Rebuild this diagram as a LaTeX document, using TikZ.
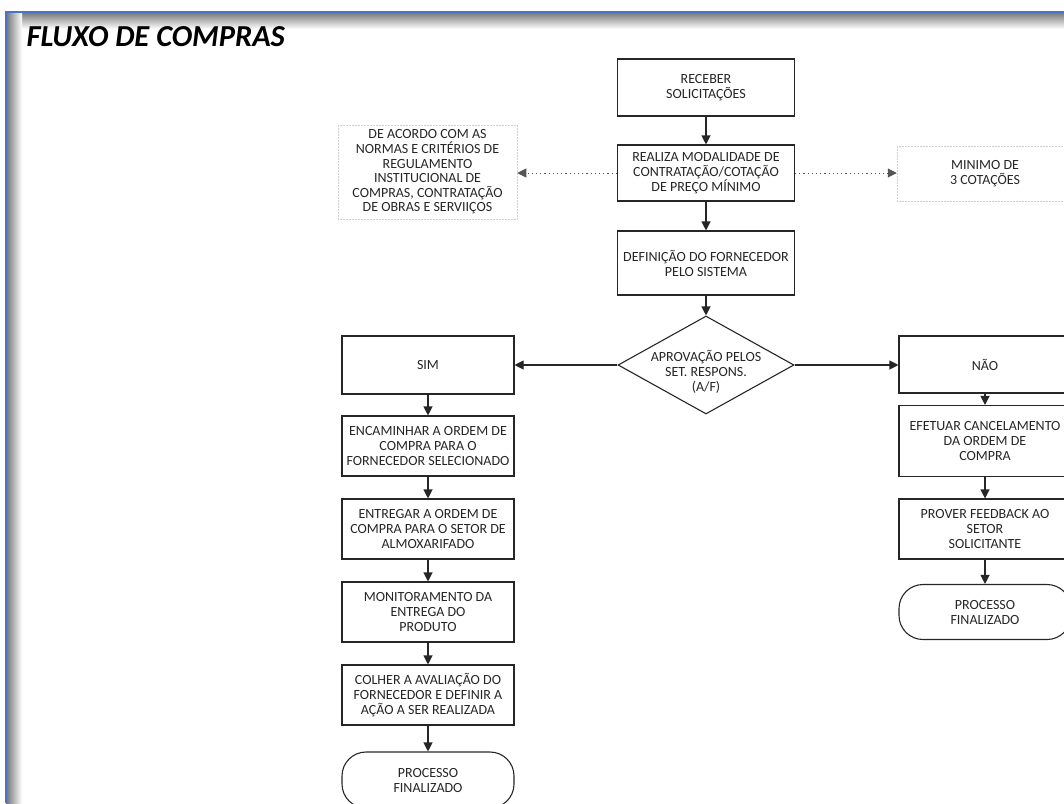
\documentclass[tikz,border=0pt]{standalone}
\usepackage{fontspec}
\setmainfont{Carlito}
\usepackage{tikz}
\usetikzlibrary{arrows.meta, positioning, shapes.geometric}
\definecolor{frameblue}{HTML}{4A72C6}
\definecolor{inkgrey}{HTML}{262626}
\definecolor{notegrey}{HTML}{CFCFCF}
\definecolor{dotgrey}{HTML}{555555}

\tikzset{
  procbox/.style={draw=inkgrey, line width=1.1pt, fill=white, inner sep=1pt,
    minimum width=172pt, minimum height=60pt, align=center, text=inkgrey,
    font=\fontsize{14}{15}\selectfont},
  endbox/.style={procbox, rounded corners=24pt, minimum height=56pt},
  notebox/.style={draw=notegrey, line width=0.5pt, densely dotted, inner sep=1pt,
    align=center, text=inkgrey, font=\fontsize{14}{14.6}\selectfont},
  decbox/.style={diamond, draw=inkgrey, line width=1.1pt, fill=white, inner sep=0pt,
    minimum width=176pt, minimum height=98pt},
  flow/.style={draw=inkgrey, line width=1.1pt, -{Triangle[length=9pt, width=9pt]}},
  sideflow/.style={draw=dotgrey, line width=1pt, dash pattern=on 1.2pt off 3pt,
    -{Triangle[length=9pt, width=9pt]}}
}

\begin{document}
\begin{tikzpicture}[x=1pt, y=-1pt]
  \useasboundingbox (0,0) rectangle (1064,803);

  % ===== page frame with soft shadow =====
  \shade[top color=black!55, bottom color=white] (6,12) rectangle (1064,29);
  \shade[left color=black!55, right color=white] (6,12) rectangle (22,803);
  \draw[frameblue, line width=1.6pt] (6,803) -- (6,12) -- (1064,12);

  \node[anchor=base west, font=\fontsize{30.5}{33}\selectfont\bfseries\itshape]
       (titulo) at (23,46) {FLUXO DE COMPRAS};

  % ===== main column =====
  \node[procbox, minimum width=177pt, minimum height=57pt] (receber) at (706,87.5)
       {RECEBER\\SOLICITAÇÕES};
  \node[procbox, minimum width=177pt, minimum height=56pt] (realiza) at (706,173)
       {REALIZA MODALIDADE DE\\CONTRATAÇÃO/COTAÇÃO\\DE PREÇO MÍNIMO};
  \node[procbox, minimum width=177pt, minimum height=64pt] (definicao) at (706,263)
       {DEFINIÇÃO DO FORNECEDOR\\PELO SISTEMA};
  \node[decbox] (aprov) at (706,365) {};
  \node[align=center, text=inkgrey, font=\fontsize{14}{15}\selectfont]
       (aprovtxt) at (706,372) {APROVAÇÃO PELOS\\SET. RESPONS.\\(A/F)};

  % side notes
  \node[notebox, minimum width=179pt, minimum height=94pt] (normas) at (427.5,172)
       {DE ACORDO COM AS\\NORMAS E CRITÉRIOS DE\\REGULAMENTO\\INSTITUCIONAL DE\\COMPRAS, CONTRATAÇÃO\\DE OBRAS E SERVIIÇOS};
  \node[notebox, minimum width=176pt, minimum height=55pt] (minimo) at (985,173.5)
       {MINIMO DE\\3 COTAÇÕES};

  % ===== SIM branch =====
  \node[procbox, minimum height=58pt] (sim) at (428,365) {SIM};
  \node[procbox] (encaminhar) at (428,446)
       {ENCAMINHAR A ORDEM DE\\COMPRA PARA O\\FORNECEDOR SELECIONADO};
  \node[procbox] (entregar) at (428,529)
       {ENTREGAR A ORDEM DE\\COMPRA PARA O SETOR DE\\ALMOXARIFADO};
  \node[procbox] (monitor) at (428,612)
       {MONITORAMENTO DA\\ENTREGA DO\\PRODUTO};
  \node[procbox] (colher) at (428,695)
       {COLHER A AVALIAÇÃO DO\\FORNECEDOR E DEFINIR A\\AÇÃO A SER REALIZADA};
  \node[endbox] (fimsim) at (428,780) {PROCESSO\\FINALIZADO};

  % ===== NAO branch =====
  \node[procbox, minimum height=57pt] (nao) at (985,364.5) {NÃO};
  \node[procbox, minimum height=71pt] (cancela) at (985,441)
       {EFETUAR CANCELAMENTO\\DA ORDEM DE\\COMPRA};
  \node[procbox] (feedback) at (985,529)
       {PROVER FEEDBACK AO\\SETOR\\SOLICITANTE};
  \node[endbox, minimum height=55pt] (fimnao) at (985,612) {PROCESSO\\FINALIZADO};

  % ===== connectors =====
  \draw[flow] (receber) -- (realiza);
  \draw[flow] (realiza) -- (definicao);
  \draw[flow] (definicao) -- (aprov.north);
  \draw[sideflow] (realiza.west) -- (realiza.west -| normas.east);
  \draw[sideflow] (realiza.east) -- (realiza.east -| minimo.west);
  \draw[flow] (aprov.west) -- (aprov.west -| sim.east);
  \draw[flow] (aprov.east) -- (aprov.east -| nao.west);

  \draw[flow] (sim) -- (encaminhar);
  \draw[flow] (encaminhar) -- (entregar);
  \draw[flow] (entregar) -- (monitor);
  \draw[flow] (monitor) -- (colher);
  \draw[flow] (colher) -- (fimsim);

  \draw[flow] (nao) -- (cancela);
  \draw[flow] (cancela) -- (feedback);
  \draw[flow] (feedback) -- (fimnao);
\end{tikzpicture}
\end{document}
